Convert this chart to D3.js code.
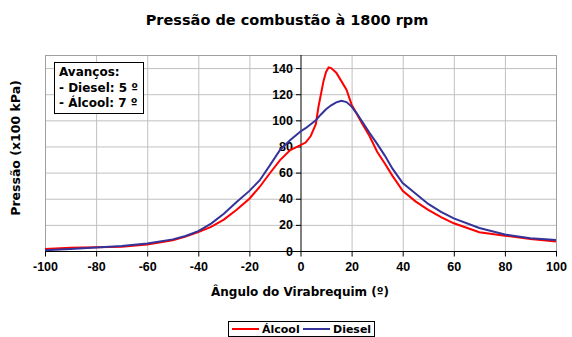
<!DOCTYPE html>
<html>
<head>
<meta charset="utf-8">
<script src="https://cdn.jsdelivr.net/npm/d3@7"></script>
<style>
  body { margin: 0; background: #fff; }
  svg { display: block; font-family: "DejaVu Sans", Verdana, sans-serif; font-weight: bold; }
</style>
</head>
<body>
<svg id="chart" width="572" height="337"></svg>
<script>
// crank angle (degrees) and pressures (x100 kPa)
const dieselAngles = [-100, -90, -80, -70, -60, -50, -45, -40, -35, -30, -25, -20, -16, -12, -8, -4,
  0, 2, 4, 6, 8, 10, 12, 14, 16, 18, 20, 22, 24, 27, 30, 33, 36, 40, 45, 50, 55, 60, 70, 80, 90, 100];
const dieselValues = [0.5, 1.5, 2.6, 3.8, 5.8, 8.9, 11.5, 15.2, 21, 28.5, 37.5, 46, 54, 65.5, 77.3, 85,
  91.5, 94, 97, 100, 104.5, 108.5, 111.5, 113.8, 115, 114, 110.5, 105.4, 99.5, 90.5, 82, 73, 63, 52, 44, 36, 30, 25, 17.6, 12.6, 9.8, 8.5];

const alcoolAngles = [-100, -90, -80, -70, -60, -50, -45, -40, -35, -30, -25, -20, -16, -12, -8, -4,
  0, 2, 4, 6, 7, 8, 9, 10, 11, 12, 14, 16, 18, 20, 22, 24, 27, 30, 33, 36, 40, 45, 50, 55, 60, 70, 80, 90, 100];
const alcoolValues = [1.6, 2.4, 2.8, 3.3, 5.0, 8.3, 11, 14.5, 18.5, 24, 31.5, 40, 49, 59.5, 69.6, 77.3,
  81, 83, 88, 97, 110, 120, 130, 137, 140.5, 140, 136.5, 130, 123.5, 112, 105, 98, 88, 76, 67, 57.5, 46, 38, 31.5, 26, 21.2, 14.3, 11.7, 9.2, 7.2];

const xTicks = [-100, -80, -60, -40, -20, 0, 20, 40, 60, 80, 100];
const yTicks = [0, 20, 40, 60, 80, 100, 120, 140];

const seriesNames = ["Álcool", "Diesel"];
const seriesColors = ["#ff0000", "#333399"];
const noteLines = ["Avanços:", "- Diesel: 5 º", "- Álcool: 7 º"];

const svg = d3.select("#chart");

// plot area
const plotLeft = 45, plotRight = 556, plotTop = 55, plotBottom = 251;

const x = d3.scaleLinear().domain([-100, 100]).range([plotLeft, plotRight]);
const y = d3.scaleLinear().domain([0, 150]).range([plotBottom, plotTop]);

// title
svg.append("text")
  .attr("x", 287)
  .attr("y", 25)
  .attr("text-anchor", "middle")
  .attr("font-size", "14.5px")
  .text("Pressão de combustão à 1800 rpm");

// grid lines
svg.append("g")
  .selectAll("line")
  .data(yTicks.filter(d => d > 0))
  .join("line")
  .attr("x1", plotLeft).attr("x2", plotRight)
  .attr("y1", d => y(d) + 0.5).attr("y2", d => y(d) + 0.5)
  .attr("stroke", "#c0c0c0");

svg.append("g")
  .selectAll("line")
  .data(xTicks.filter(d => d !== 0))
  .join("line")
  .attr("x1", d => x(d) + 0.5).attr("x2", d => x(d) + 0.5)
  .attr("y1", plotTop).attr("y2", plotBottom)
  .attr("stroke", "#c0c0c0");

// plot area border (top, left, right)
svg.append("path")
  .attr("d", `M${plotLeft + 0.5},${plotBottom}V${plotTop + 0.5}H${plotRight + 0.5}V${plotBottom}`)
  .attr("fill", "none")
  .attr("stroke", "#a0a0a0");

// x axis at y = 0 (plain hyphen for negatives, like Excel)
const xAxis = svg.append("g")
  .attr("transform", `translate(0,${y(0) + 0.5})`)
  .call(d3.axisBottom(x).tickValues(xTicks).tickSize(5).tickPadding(6).tickFormat(d => String(d)));
xAxis.select(".domain").attr("stroke", "#000").attr("d", `M${plotLeft},0H${plotRight + 1}`);
xAxis.selectAll("text").attr("font-size", "12.5px").attr("font-family", null).attr("fill", "#000");

// y axis at x = 0
const yAxis = svg.append("g")
  .attr("transform", `translate(${x(0) + 0.5},0)`)
  .call(d3.axisLeft(y).tickValues(yTicks).tickSize(5).tickPadding(3));
yAxis.select(".domain").attr("stroke", "#000").attr("d", `M0,${plotTop}V${plotBottom + 1}`);
yAxis.selectAll("text").attr("font-size", "12.5px").attr("font-family", null).attr("fill", "#000");

// axis titles
svg.append("text")
  .attr("x", 300)
  .attr("y", 296)
  .attr("text-anchor", "middle")
  .attr("font-size", "12px")
  .text("Ângulo do Virabrequim (º)");

svg.append("text")
  .attr("transform", "translate(20,148) rotate(-90)")
  .attr("text-anchor", "middle")
  .attr("font-size", "12.5px")
  .text("Pressão (x100 kPa)");

// series lines
const line = d3.line()
  .x(d => x(d[0]))
  .y(d => y(d[1]));

const series = [
  d3.zip(alcoolAngles, alcoolValues),
  d3.zip(dieselAngles, dieselValues)
];

series.forEach((data, i) => {
  svg.append("path")
    .datum(data)
    .attr("fill", "none")
    .attr("stroke", seriesColors[i])
    .attr("stroke-width", 2)
    .attr("d", line);
});

// note box
const note = svg.append("g").attr("transform", "translate(54,62)");
note.append("rect")
  .attr("x", 0.5).attr("y", 0.5)
  .attr("width", 89).attr("height", 51)
  .attr("fill", "#fff")
  .attr("stroke", "#000");
note.selectAll("text")
  .data(noteLines)
  .join("text")
  .attr("x", 5)
  .attr("y", (d, i) => 14 + i * 15.5)
  .attr("font-size", "12px")
  .text(d => d);

// legend
const legend = svg.append("g").attr("transform", "translate(228,321)");
legend.append("rect")
  .attr("x", 0.5).attr("y", 0.5)
  .attr("width", 146).attr("height", 15)
  .attr("fill", "#fff")
  .attr("stroke", "#000");

const legendX = [4, 75];
seriesNames.forEach((name, i) => {
  legend.append("line")
    .attr("x1", legendX[i]).attr("x2", legendX[i] + 27)
    .attr("y1", 8).attr("y2", 8)
    .attr("stroke", seriesColors[i])
    .attr("stroke-width", 2);
  legend.append("text")
    .attr("x", legendX[i] + 30)
    .attr("y", 12)
    .attr("font-size", "11px")
    .text(name);
});
</script>
</body>
</html>
